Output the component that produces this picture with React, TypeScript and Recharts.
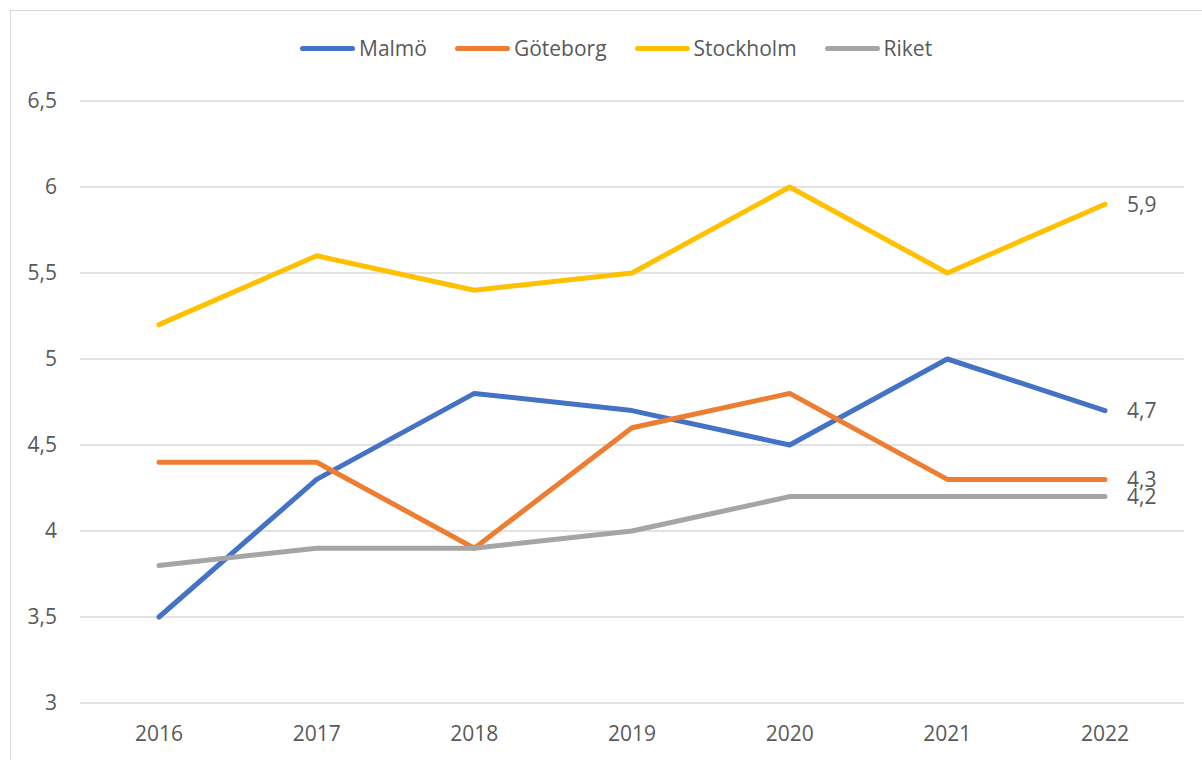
import { LineChart, Line, XAxis, YAxis, CartesianGrid } from "recharts";

const years = ["2016", "2017", "2018", "2019", "2020", "2021", "2022"];
const malmo = [3.5, 4.3, 4.8, 4.7, 4.5, 5.0, 4.7];
const goteborg = [4.4, 4.4, 3.9, 4.6, 4.8, 4.3, 4.3];
const stockholm = [5.2, 5.6, 5.4, 5.5, 6.0, 5.5, 5.9];
const riket = [3.8, 3.9, 3.9, 4.0, 4.2, 4.2, 4.2];
const yTicks = [3, 3.5, 4, 4.5, 5, 5.5, 6, 6.5];

const series = [
  { key: "malmo", name: "Malmö", color: "#4472C4" },
  { key: "goteborg", name: "Göteborg", color: "#ED7D31" },
  { key: "stockholm", name: "Stockholm", color: "#FFC000" },
  { key: "riket", name: "Riket", color: "#A5A5A5" },
];

const data = years.map((year, i) => ({
  year,
  malmo: malmo[i],
  goteborg: goteborg[i],
  stockholm: stockholm[i],
  riket: riket[i],
}));

const FONT = "'Open Sans', sans-serif";
const TEXT = "#595959";
const fmt = (v: number) => String(v).replace(".", ",");

// only the last point of each line gets a value label
const endLabel = (props: any) => {
  if (props.index !== years.length - 1) return <g />;
  return (
    <text x={props.x + 22} y={props.y} dy="0.36em" fontSize={21} fontFamily={FONT} fill={TEXT}>
      {fmt(props.value)}
    </text>
  );
};

const Legend = () => (
  <div
    style={{
      position: "absolute",
      left: 300,
      top: 34,
      display: "flex",
      alignItems: "center",
      gap: 28,
      fontFamily: FONT,
      fontSize: 21,
      color: TEXT,
      whiteSpace: "nowrap",
    }}
  >
    {series.map(s => (
      <div key={s.key} style={{ display: "flex", alignItems: "center", gap: 4 }}>
        <span style={{ width: 55, height: 5, borderRadius: 3, background: s.color, display: "inline-block" }} />
        <span>{s.name}</span>
      </div>
    ))}
  </div>
);

export default function App() {
  return (
    <div style={{ position: "absolute", left: 0, top: 0, width: 1202, height: 760, background: "#fff", overflow: "hidden" }}>
      <div style={{ position: "absolute", left: 10, top: 10, width: 1300, height: 900, border: "1px solid #d9d9d9" }} />
      <Legend />
      <div style={{ position: "absolute", left: 0, top: 0 }}>
        <LineChart width={1202} height={760} data={data} margin={{ top: 101, right: 18, bottom: 27, left: 0 }}>
          <CartesianGrid vertical={false} stroke="#d9d9d9" strokeWidth={1.5} />
          <XAxis
            dataKey="year"
            height={30}
            axisLine={false}
            tickLine={false}
            padding={{ left: 79, right: 79 }}
            tickMargin={17}
            tick={{ fontSize: 21, fontFamily: FONT, fill: TEXT }}
          />
          <YAxis
            type="number"
            domain={[3, 6.5]}
            ticks={yTicks}
            width={80}
            axisLine={false}
            tickLine={false}
            tickMargin={17}
            tickFormatter={fmt}
            tick={{ fontSize: 21, fontFamily: FONT, fill: TEXT }}
          />
          {series.map(s => (
            <Line
              key={s.key}
              dataKey={s.key}
              name={s.name}
              stroke={s.color}
              strokeWidth={5}
              strokeLinecap="round"
              strokeLinejoin="round"
              dot={false}
              activeDot={false}
              label={endLabel}
              isAnimationActive={false}
            />
          ))}
        </LineChart>
      </div>
    </div>
  );
}
